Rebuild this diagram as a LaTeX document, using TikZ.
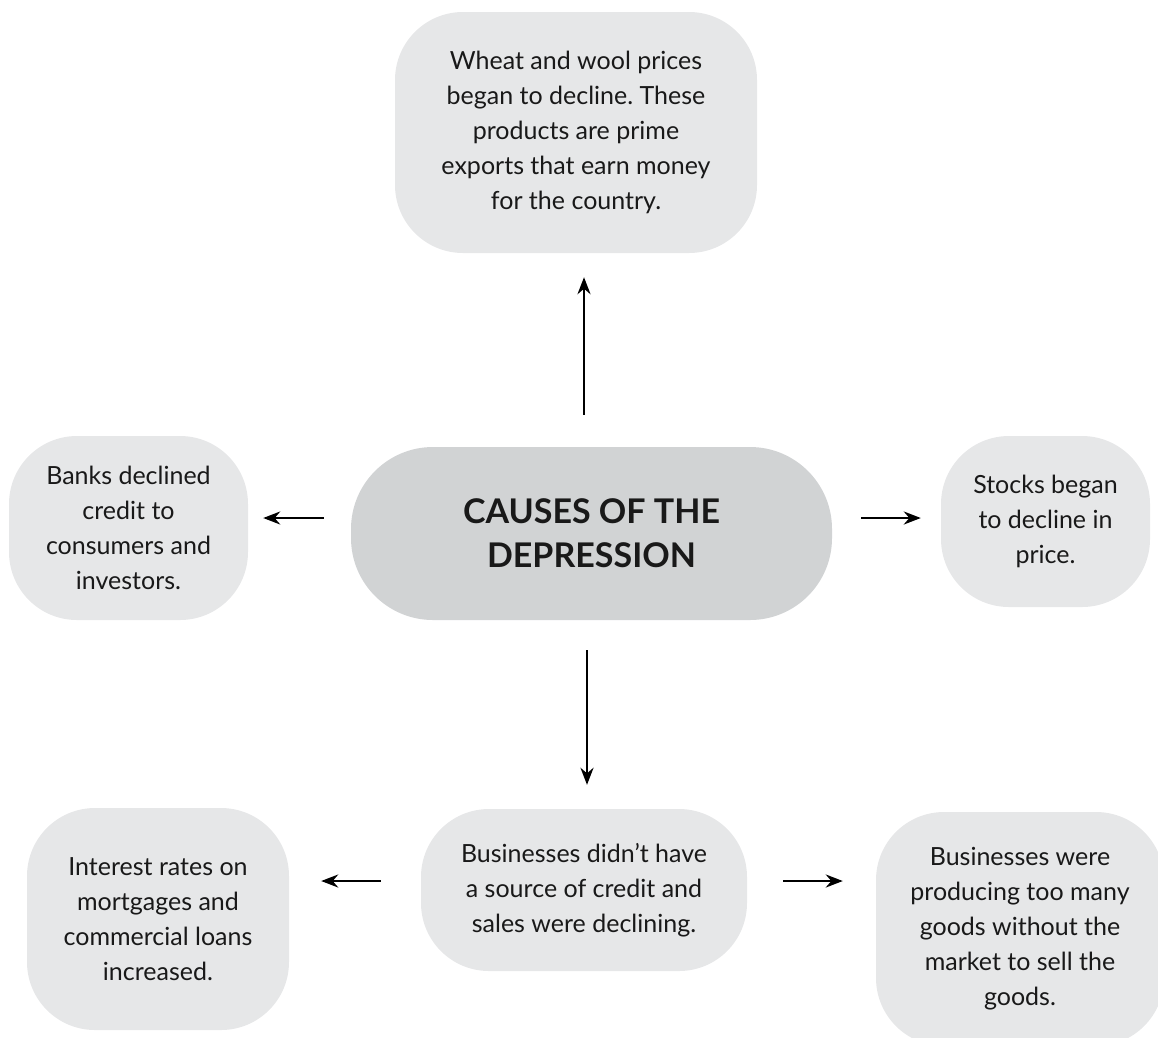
\documentclass[tikz,border=0pt]{standalone}
\usepackage{fontspec}
\setmainfont{Lato}
\frenchspacing
\usetikzlibrary{arrows.meta}
\definecolor{boxgray}{HTML}{E6E7E8}
\definecolor{maingray}{HTML}{D1D3D4}
\tikzset{
  causebox/.style={fill=boxgray, rounded corners=68pt, inner sep=0pt, align=center,
    font=\fontsize{25}{35}\selectfont, text=black!90},
  arr/.style={-{Stealth[length=17pt,width=13pt]}, line width=2.6pt},
}
\begin{document}
\begin{tikzpicture}[x=1pt,y=1pt]
		\useasboundingbox (0,0) rectangle (1158,-1037);
		\clip (0,0) rectangle (1158,-1037);

		\node [causebox, fill=maingray, rounded corners=82pt, minimum width=481pt, minimum height=173pt,
		  font=\fontsize{34}{44}\selectfont\bfseries] (cause) at (591.5,-533.5) {CAUSES OF THE\\DEPRESSION};
		\node [causebox, minimum width=362pt, minimum height=241pt] (wheat) at (576,-132.5)
		  {Wheat and wool prices\\began to decline. These\\products are prime\\exports that earn money\\for the country.};
		\node [causebox, minimum width=239pt, minimum height=184pt] (banks) at (128.5,-528)
		  {Banks declined\\credit to\\consumers and\\investors.};
		\node [causebox, minimum width=209pt, minimum height=171pt] (stocks) at (1045.5,-521.5)
		  {Stocks began\\to decline in\\price.};
		\node [causebox, minimum width=326pt, minimum height=162pt] (business) at (584,-890)
		  {Businesses didn't have\\a source of credit and\\sales were declining.};
		\node [causebox, minimum width=262pt, minimum height=222pt] (interest) at (158,-919)
		  {Interest rates on\\mortgages and\\commercial loans\\increased.};
		\node [causebox, minimum width=288pt, minimum height=234pt] (overprod) at (1020,-929)
		  {Businesses were\\producing too many\\goods without the\\market to sell the\\goods.};

		% arrows out of the centre
		\draw [arr, shorten <=32pt, shorten >=24pt] ([xshift=-7.5pt]cause.north) -- ([xshift=8pt]wheat.south);
		\draw [arr, shorten <=27pt, shorten >=15pt] ([yshift=15.5pt]cause.west) -- ([yshift=10pt]banks.east);
		\draw [arr, shorten <=29pt, shorten >=20pt] ([yshift=15.5pt]cause.east) -- ([yshift=3.5pt]stocks.west);
		\draw [arr, shorten <=30pt, shorten >=24pt] ([xshift=-4.5pt]cause.south) -- ([xshift=3pt]business.north);
		% arrows out of the business box
		\draw [arr, shorten <=40pt, shorten >=32pt] ([yshift=9pt]business.west) -- ([yshift=38pt]interest.east);
		\draw [arr, shorten <=36pt, shorten >=33pt] ([yshift=9pt]business.east) -- ([yshift=48pt]overprod.west);
\end{tikzpicture}
\end{document}
